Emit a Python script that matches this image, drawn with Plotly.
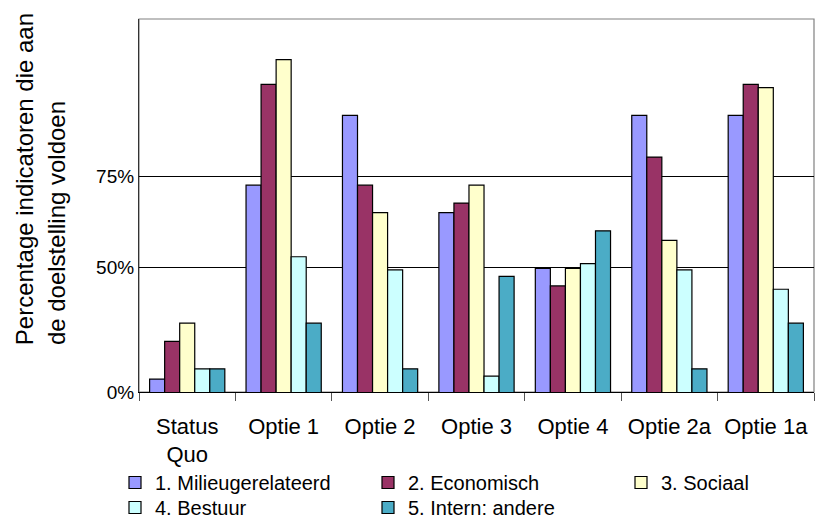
import plotly.graph_objects as go

categories = ["Status<br>Quo", "Optie 1", "Optie 2", "Optie 3", "Optie 4", "Optie 2a", "Optie 1a"]
series_names = ["1. Milieugerelateerd", "2. Economisch", "3. Sociaal", "4. Bestuur", "5. Intern: andere"]
milieu = [19.4, 72.5, 91.6, 65.0, 49.7, 91.6, 91.6]
economisch = [29.7, 100.1, 72.5, 67.6, 44.9, 80.2, 100.1]
sociaal = [34.7, 106.9, 65.0, 72.5, 49.7, 57.4, 99.2]
bestuur = [22.2, 52.9, 49.3, 20.2, 51.0, 49.3, 44.0]
intern = [22.2, 34.7, 22.2, 47.5, 60.0, 22.2, 34.7]
colors = ["#9999FF", "#993366", "#FFFFCC", "#CCFFFF", "#4BACC6"]
y_tick_vals = [15.86, 50, 75]
y_tick_text = ["0%", "50%", "75%"]

FONT = "Liberation Sans, Arial, sans-serif"

# one legend box per entry: 3 columns x 2 rows
legend_ids = ["legend", "legend2", "legend3", "legend4", "legend5"]
legend_pos = [(115, 463), (368, 463), (621, 463), (115, 488), (368, 488)]

fig = go.Figure()
for i, (name, vals) in enumerate(zip(series_names, [milieu, economisch, sociaal, bestuur, intern])):
    fig.add_trace(go.Bar(
        x=categories, y=vals, name=name,
        marker=dict(color=colors[i], line=dict(color="black", width=1.2)),
        legend=legend_ids[i],
    ))

def leg(xpx, ypx):
    return dict(
        orientation="v", xref="container", yref="container",
        x=xpx / 817, xanchor="left", y=(518 - ypx) / 518, yanchor="top",
        font=dict(family=FONT, size=20, color="black"),
        bgcolor="rgba(0,0,0,0)",
    )

legends = {lid: leg(*pos) for lid, pos in zip(legend_ids, legend_pos)}

fig.update_layout(
    width=817, height=518,
    margin=dict(l=139, r=3, t=19, b=126, autoexpand=False),
    paper_bgcolor="white", plot_bgcolor="white",
    barmode="group", bargap=0.22, bargroupgap=0,
    font=dict(family=FONT, color="black"),
    showlegend=True,
    **legends,
    shapes=[dict(type="rect", xref="paper", yref="paper", x0=0, x1=1, y0=0, y1=1,
                 line=dict(color="#808080", width=1.2), layer="below")],
    annotations=[
        dict(text="Percentage indicatoren die aan", textangle=-90, showarrow=False,
             xref="paper", yref="paper", x=(24-139.3)/676, y=(391.7-347)/373,
             xanchor="center", yanchor="bottom", font=dict(family=FONT, size=24, color="black")),
        dict(text="de doelstelling voldoen", textangle=-90, showarrow=False,
             xref="paper", yref="paper", x=(56-139.3)/676, y=(391.7-347)/373,
             xanchor="center", yanchor="bottom", font=dict(family=FONT, size=24, color="black")),
    ],
)

fig.update_xaxes(
    type="category", automargin=False, showline=True, linecolor="black", linewidth=1.2,
    ticks="outside", tickson="boundaries", ticklen=8, tickcolor="#555555", tickwidth=1,
    ticklabelstandoff=14,
    tickfont=dict(family=FONT, size=22, color="black"), showgrid=False,
)
fig.update_yaxes(
    automargin=False, range=[15.86, 118], tickvals=y_tick_vals, ticktext=y_tick_text,
    showgrid=True, gridcolor="black", gridwidth=1.2,
    showline=True, linecolor="#333333", linewidth=1.2,
    ticks="", tickfont=dict(family=FONT, size=19, color="black"),
    zeroline=False,
)

fig.write_html(
    "out.html",
    config={"displayModeBar": False},
    post_script="document.body.style.margin='0';document.body.style.padding='0';",
)
